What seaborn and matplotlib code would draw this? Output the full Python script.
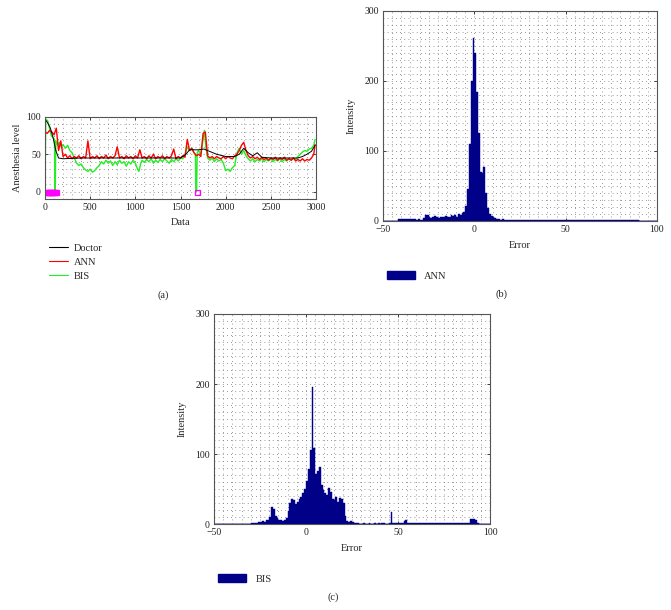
"""
Anesthesia level tracking (a) and error histograms for ANN (b) and BIS (c).
"""

import numpy as np
import matplotlib.pyplot as plt
import seaborn as sns
from matplotlib.lines import Line2D
from matplotlib.patches import Patch
from matplotlib.ticker import MultipleLocator


# Style
sns.set_style("ticks")
plt.rcParams["font.family"] = ["Liberation Serif", "DejaVu Serif"]
plt.rcParams["font.size"] = 7
plt.rcParams["axes.edgecolor"] = "#555555"
plt.rcParams["axes.linewidth"] = 0.8

NAVY = "#000088"

# ---- (a) time series ----
doc_x = [0, 30, 60, 90, 120, 150, 200, 400, 800, 1200, 1500, 1560, 1600, 1700,
         1760, 1800, 1900, 2000, 2100, 2150, 2200, 2250, 2300, 2350, 2400, 2500,
         2700, 2800, 2850, 2900, 2950, 2990]
doc_y = [97, 92, 85, 72, 55, 45, 44, 45, 45, 45, 45, 50, 56, 56,
         57, 55, 50, 47, 47, 50, 58, 52, 48, 52, 46, 45,
         45, 45, 47, 50, 54, 62]

ann_x = [0, 25, 50, 75, 100, 125, 150, 175, 200, 225, 250, 275, 300, 325, 350,
         375, 400, 425, 450, 475, 500, 525, 550, 575, 600, 625, 650, 675, 700,
         725, 750, 775, 800, 825, 850, 875, 900, 925, 950, 975, 1000, 1025,
         1050, 1075, 1100, 1125, 1150, 1175, 1200, 1225, 1250, 1275, 1300, 1325,
         1350, 1375, 1400, 1425, 1450, 1475, 1500, 1525, 1550, 1575, 1600, 1625,
         1650, 1675, 1700, 1725, 1750, 1775, 1800, 1825, 1850, 1875, 1900, 1925,
         1950, 1975, 2000, 2025, 2050, 2075, 2100, 2125, 2150, 2175, 2200, 2225,
         2250, 2275, 2300, 2325, 2350, 2375, 2400, 2425, 2450, 2475, 2500, 2525,
         2550, 2575, 2600, 2625, 2650, 2675, 2700, 2725, 2750, 2775, 2800, 2825,
         2850, 2875, 2900, 2925, 2950, 2975, 2990]
ann_y = [80, 78, 82, 80, 76, 85, 55, 68, 47, 50, 45, 48, 44, 47, 45,
         48, 44, 47, 45, 68, 44, 47, 45, 48, 44, 47, 45, 49, 44,
         47, 45, 48, 60, 45, 47, 44, 48, 45, 47, 44, 48, 45,
         56, 45, 47, 44, 48, 45, 50, 44, 47, 45, 48, 44,
         47, 45, 48, 57, 44, 47, 45, 48, 46, 70, 55, 58,
         52, 48, 50, 47, 78, 80, 48, 45, 47, 44, 47, 45,
         44, 47, 44, 47, 45, 44, 48, 50, 55, 62, 66, 55,
         48, 45, 47, 44, 46, 43, 46, 43, 45, 42, 45, 43,
         46, 42, 45, 43, 46, 42, 44, 42, 45, 41, 43, 41,
         44, 41, 43, 42, 45, 50, 63]

bis_x = [0, 8, 30, 50, 70, 90, 105, 112, 120, 140, 160, 180, 200, 225, 250,
         275, 300, 325, 350, 375, 400, 425, 450, 475, 500, 525, 550, 575, 600,
         625, 650, 675, 700, 725, 750, 775, 800, 825, 850, 875, 900, 925, 950,
         975, 1000, 1025, 1040, 1060, 1075, 1100, 1125, 1150, 1175, 1200, 1225,
         1250, 1275, 1300, 1325, 1350, 1375, 1400, 1425, 1450, 1475, 1500, 1525,
         1550, 1575, 1600, 1625, 1650, 1665, 1670, 1678, 1685, 1700, 1725, 1750,
         1765, 1780, 1800, 1825, 1850, 1875, 1900, 1925, 1950, 1975, 2000, 2025,
         2050, 2075, 2100, 2125, 2150, 2175, 2200, 2225, 2250, 2275, 2300, 2325,
         2350, 2375, 2400, 2425, 2450, 2475, 2500, 2525, 2550, 2575, 2600, 2625,
         2650, 2675, 2700, 2725, 2750, 2775, 2800, 2825, 2850, 2875, 2900, 2925,
         2950, 2975, 2990]
bis_y = [0, 97, 95, 85, 75, 72, 70, 0, 68, 62, 66, 60, 63, 58, 62,
         55, 52, 45, 38, 35, 37, 32, 29, 27, 30, 26, 28, 32, 35,
         40, 37, 42, 38, 41, 35, 40, 36, 42, 38, 40, 34, 40, 37,
         42, 38, 30, 27, 38, 42, 39, 43, 40, 44, 38, 42,
         39, 43, 40, 44, 41, 38, 43, 40, 44, 41, 45, 44,
         50, 60, 55, 58, 52, 50, 0, 0, 52, 55, 50, 70,
         82, 60, 45, 42, 45, 40, 44, 41, 43, 38, 28, 30,
         27, 32, 35, 52, 58, 50, 55, 48, 44, 41, 44, 40,
         43, 41, 44, 40, 43, 41, 44, 40, 43, 41, 44, 40,
         43, 41, 44, 42, 45, 43, 47, 50, 53, 55, 54, 57,
         58, 62, 70]

# samples where the BIS signal is missing (magenta squares at zero)
bis_missing_x = [10, 20, 30, 40, 50, 60, 70, 80, 90, 100, 110, 120, 1687]
bis_missing_y = [0, 0, 0, 0, 0, 0, 0, 0, 0, 0, 0, 0, 0]

# ---- (b) ANN error histogram, 1-unit bins ----
ann_err = np.arange(-41.5, 90, 1.0)
ann_cnt = [3, 3, 3, 3, 3, 3, 3, 3, 3, 3, 2, 3,
           1, 2, 4, 8, 9, 6, 4, 6, 7, 5,
           4, 5, 6, 5, 7, 6, 5, 8, 7, 9,
           6, 10, 9, 12, 13, 22, 45, 110, 200, 262,
           240, 185, 125, 70, 68, 77, 40, 18, 10, 7,
           5, 4, 3, 3, 2, 3, 2, 2, 1, 1,
           1, 1, 1, 1, 1, 1, 1, 1, 1, 1,
           1, 1, 1, 1, 1, 1, 1, 1, 1, 1,
           1, 1, 1, 1, 1, 1, 1, 1, 1, 1,
           1, 1, 1, 1, 1, 1, 1, 1, 1, 1,
           1, 1, 1, 1, 1, 1, 1, 1, 1, 1,
           1, 1, 1, 1, 1, 1, 1, 1, 1, 1,
           1, 1, 1, 1, 1, 1, 1, 1, 1, 1]

# ---- (c) BIS error histogram, 1-unit bins ----
bis_err = np.arange(-29.5, 94, 1.0)
bis_cnt = [1, 1, 2, 2, 3, 3, 4, 3, 5, 6,
           10, 24, 22, 12, 8, 6, 5, 4, 5, 8,
           18, 30, 36, 34, 28, 32, 36, 38, 44, 50,
           62, 78, 106, 196, 108, 72, 76, 82, 55, 48,
           44, 42, 52, 46, 36, 34, 38, 32, 37, 35,
           30, 12, 4, 3, 4, 3, 2, 1, 1, 0,
           0, 1, 0, 0, 1, 0, 0, 1, 0, 1,
           0, 1, 1, 0, 0, 2, 17, 1, 2, 1,
           1, 2, 1, 4, 5, 2, 1, 1, 1, 1,
           1, 1, 1, 1, 1, 1, 1, 1, 1, 1,
           1, 1, 1, 1, 1, 1, 1, 1, 1, 1,
           1, 1, 1, 1, 1, 1, 1, 1, 1, 7,
           7, 7, 6, 2]


def style_axes(ax, xminor, yminor):
    """MATLAB-like boxed axes with dotted minor grid."""
    ax.xaxis.set_minor_locator(MultipleLocator(xminor))
    ax.yaxis.set_minor_locator(MultipleLocator(yminor))
    ax.grid(which="both", linestyle=(0, (1, 4)), color="#777777", linewidth=0.6)
    ax.set_axisbelow(True)
    ax.tick_params(which="major", direction="in", top=True, right=True,
                   length=2.5, width=0.6, labelsize=7, pad=3, colors="#222222")
    ax.tick_params(which="minor", length=0)
    for sp in ax.spines.values():
        sp.set_visible(True)
        sp.set_color("#555555")


fig = plt.figure(figsize=(6.71, 6.10), dpi=100)

# (a) anesthesia level
ax_a = fig.add_axes([45 / 671, 1 - 199 / 610, 271 / 671, 82 / 610])
sns.lineplot(x=bis_x, y=bis_y, ax=ax_a, color="#22ee22", linewidth=1.0, estimator=None)
sns.lineplot(x=ann_x, y=ann_y, ax=ax_a, color="#ff0000", linewidth=1.0, estimator=None)
sns.lineplot(x=doc_x, y=doc_y, ax=ax_a, color="#000000", linewidth=0.7, estimator=None)
ax_a.plot(bis_missing_x, bis_missing_y, linestyle="none", marker="s", markersize=3.6,
          markerfacecolor="none", markeredgecolor="#ff00ff", markeredgewidth=0.9)
ax_a.set_xlim(0, 3000)
ax_a.set_ylim(-10, 100)
ax_a.set_xticks(range(0, 3001, 500))
ax_a.set_yticks([0, 50, 100])
style_axes(ax_a, 100, 10)
ax_a.set_xlabel("Data", fontsize=7.5, labelpad=4)
ax_a.set_ylabel("Anesthesia level", fontsize=7.5, labelpad=3)
handles_a = [
    Line2D([], [], color="#000000", linewidth=0.8),
    Line2D([], [], color="#ff0000", linewidth=0.8),
    Line2D([], [], color="#22ee22", linewidth=0.8),
]
ax_a.legend(handles_a, ["Doctor", "ANN", "BIS"], loc="center left",
            bbox_to_anchor=(-0.005, -0.77), frameon=False, fontsize=7.5,
            handlelength=1.8, handletextpad=0.6, labelspacing=0.45, borderpad=0)

# (b) ANN error histogram
ax_b = fig.add_axes([383 / 671, 1 - 221 / 610, 274 / 671, 210 / 610])
sns.histplot(x=ann_err, weights=ann_cnt, binwidth=1, binrange=(-50, 100),
             element="step", fill=True, color=NAVY, alpha=1, linewidth=0.3,
             edgecolor=NAVY, ax=ax_b)
ax_b.set_xlim(-50, 100)
ax_b.set_ylim(0, 300)
ax_b.set_xticks([-50, 0, 50, 100])
ax_b.set_yticks([0, 100, 200, 300])
style_axes(ax_b, 5, 10)
ax_b.set_xlabel("Error", fontsize=7.5, labelpad=5)
ax_b.set_ylabel("Intensity", fontsize=7.5, labelpad=6)
ax_b.legend([Patch(facecolor=NAVY, edgecolor=NAVY)], ["ANN"], loc="center left",
            bbox_to_anchor=(-0.005, -0.262), frameon=False, fontsize=7.5,
            handlelength=2.7, handleheight=0.7, handletextpad=0.9, borderpad=0)

# (c) BIS error histogram
ax_c = fig.add_axes([214 / 671, 1 - 524 / 610, 276 / 671, 210 / 610])
sns.histplot(x=bis_err, weights=bis_cnt, binwidth=1, binrange=(-50, 100),
             element="step", fill=True, color=NAVY, alpha=1, linewidth=0.3,
             edgecolor=NAVY, ax=ax_c)
ax_c.set_xlim(-50, 100)
ax_c.set_ylim(0, 300)
ax_c.set_xticks([-50, 0, 50, 100])
ax_c.set_yticks([0, 100, 200, 300])
style_axes(ax_c, 5, 10)
ax_c.set_xlabel("Error", fontsize=7.5, labelpad=5)
ax_c.set_ylabel("Intensity", fontsize=7.5, labelpad=6)
ax_c.legend([Patch(facecolor=NAVY, edgecolor=NAVY)], ["BIS"], loc="center left",
            bbox_to_anchor=(-0.005, -0.262), frameon=False, fontsize=7.5,
            handlelength=2.7, handleheight=0.7, handletextpad=0.9, borderpad=0)

# panel letters
fig.text(163 / 671, 1 - 295 / 610, "(a)", ha="center", va="center", fontsize=7.5)
fig.text(502 / 671, 1 - 294 / 610, "(b)", ha="center", va="center", fontsize=7.5)
fig.text(333 / 671, 1 - 597 / 610, "(c)", ha="center", va="center", fontsize=7.5)

fig.savefig("out.png", dpi=100)
plt.close(fig)
